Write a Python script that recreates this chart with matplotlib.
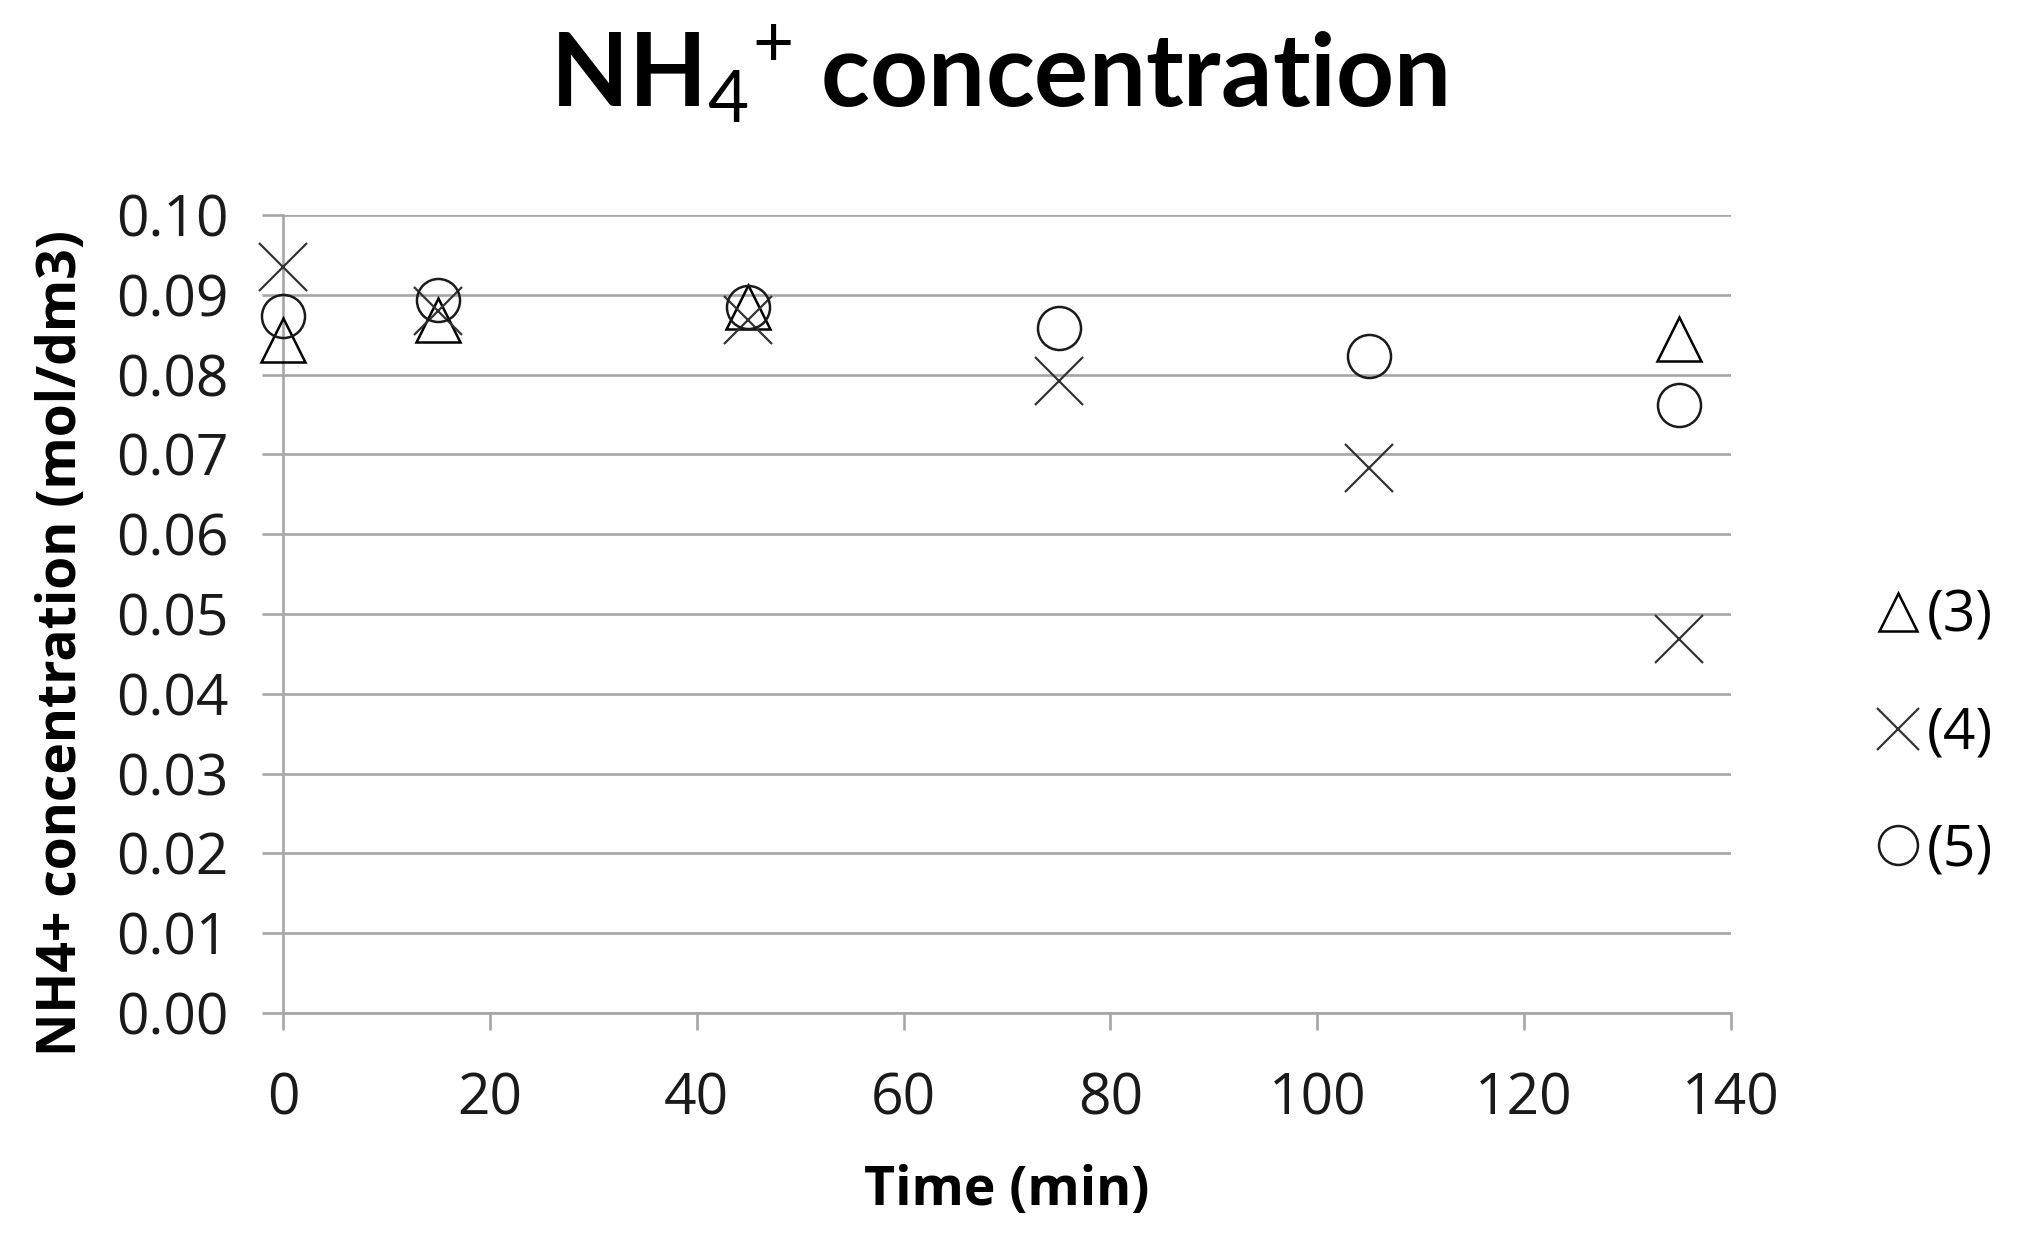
import matplotlib
matplotlib.use("Agg")
import matplotlib.pyplot as plt
from matplotlib.lines import Line2D

plt.rcParams['font.family'] = ['Open Sans', 'DejaVu Sans']
plt.rcParams['mathtext.fontset'] = 'custom'
plt.rcParams['mathtext.rm'] = 'Lato'
plt.rcParams['mathtext.bf'] = 'Lato:bold'

time_min = [0, 15, 45, 75, 105, 135]
series_3 = [0.0843, 0.0869, 0.0885, None, None, 0.0845]
series_4 = [0.0935, 0.0880, 0.0869, 0.0792, 0.0683, 0.0469]
series_5 = [0.0873, 0.0894, 0.0885, 0.0858, 0.0823, 0.0762]
series_labels = ["(3)", "(4)", "(5)"]
x_ticks = [0, 20, 40, 60, 80, 100, 120, 140]
y_ticks = [0.00, 0.01, 0.02, 0.03, 0.04, 0.05, 0.06, 0.07, 0.08, 0.09, 0.10]

W, H = 2029, 1251
fig = plt.figure(figsize=(W / 100, H / 100), dpi=100)
ax = fig.add_axes([283 / W, 1 - 1013 / H, (1731 - 283) / W, (1013 - 215) / H])

grid_c = '#a6a6a6'
for v in y_ticks:
    ax.axhline(v, color=grid_c, lw=1.9, zorder=1)

def pts(xs, ys):
    pairs = [(x, y) for x, y in zip(xs, ys) if y is not None]
    return [p[0] for p in pairs], [p[1] for p in pairs]

x3, y3 = pts(time_min, series_3)
x4, y4 = pts(time_min, series_4)
x5, y5 = pts(time_min, series_5)
ax.plot(x3, y3, ls='none', marker='^', ms=31, mfc='none', mec='black', mew=1.8, zorder=3, clip_on=False)
ax.plot(x4, y4, ls='none', marker='x', ms=34, mec='#333333', mew=1.6, zorder=3, clip_on=False)
ax.plot(x5, y5, ls='none', marker='o', ms=31, mfc='none', mec='#1a1a1a', mew=1.8, zorder=3, clip_on=False)

ax.set_xlim(0, 140)
ax.set_ylim(0, 0.10)
ax.set_xticks(x_ticks)
ax.set_yticks(y_ticks)
ax.set_xticklabels([str(v) for v in x_ticks])
ax.set_yticklabels([f"{v:.2f}" for v in y_ticks])
for s in ['top', 'right']:
    ax.spines[s].set_visible(False)
for s in ['left', 'bottom']:
    ax.spines[s].set_color(grid_c)
    ax.spines[s].set_linewidth(1.9)
ax.tick_params(axis='y', direction='out', length=15, width=1.9, color=grid_c,
               labelsize=41, pad=24, labelcolor='#1a1a1a')
ax.tick_params(axis='x', direction='out', length=12, width=1.9, color=grid_c,
               labelsize=41, pad=30, labelcolor='#1a1a1a')

ax.set_xlabel("Time (min)", fontsize=38.5, fontweight='bold', labelpad=26)
ax.set_ylabel("NH4+ concentration (mol/dm3)", fontsize=38.5, fontweight='bold')
ax.yaxis.set_label_coords(-0.134, 0.464)

fig.text(999 / W, 1 - 107 / H, r"NH$_\mathrm{4}$$^\mathrm{+}$ concentration", fontsize=73,
         family=['Lato'], fontweight='bold', ha='center', va='baseline')

handles = [
    Line2D([], [], ls='none', marker='^', ms=27, mfc='none', mec='black', mew=1.8),
    Line2D([], [], ls='none', marker='x', ms=30, mec='#333333', mew=1.6),
    Line2D([], [], ls='none', marker='o', ms=28, mfc='none', mec='#1a1a1a', mew=1.8),
]
fig.legend(handles, series_labels, loc='center left', bbox_to_anchor=(1847 / W, 1 - 734 / H),
           frameon=False, fontsize=41, handlelength=0.8, handletextpad=0.1, labelspacing=1.05,
           borderpad=0)

fig.savefig("out.png", dpi=100)
